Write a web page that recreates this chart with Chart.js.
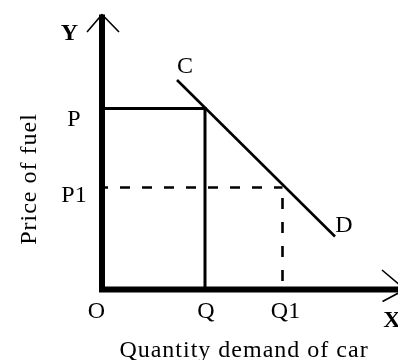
<!DOCTYPE html>
<html>
<head>
<meta charset="utf-8">
<script src="https://cdn.jsdelivr.net/npm/chart.js@4"></script>
<style>
  html, body { margin: 0; padding: 0; background: #ffffff; }
  #wrap { width: 398px; height: 360px; position: relative; }
</style>
</head>
<body>
<div id="wrap"><canvas id="chart"></canvas></div>
<script>
// ── Values (origin O = 0,0) ──────────────────────────────────────────────────

const tickLabels = ['O', 'Q', 'Q1'];
const priceLabels = ['P', 'P1'];

const priceP = 181;
const priceP1 = 102;
const qtyQ = 103;
const qtyQ1 = 180.5;

// demand curve C -> D
const demandQty = [75, 233];
const demandPrice = [209.5, 53];

// axis ends and arrow heads
const yAxisTop = 275;
const xAxisEnd = 300;
const yArrowQty = [-15, 0, 17];
const yArrowPrice = [257.5, 275, 257.5];
const xArrowQty = [280, 303, 280.5];
const xArrowPrice = [19.5, 0, -12];

const toPoints = (xs, ys) => xs.map((x, i) => ({ x: x, y: ys[i] }));

function lineSet(points, width, extra) {
  return Object.assign({
    data: points,
    showLine: true,
    borderColor: '#000000',
    backgroundColor: '#000000',
    borderWidth: width,
    pointRadius: 0,
    pointHoverRadius: 0,
    tension: 0,
    fill: false,
    borderCapStyle: 'butt',
    borderJoinStyle: 'miter',
  }, extra || {});
}

// ── Text labels placed through the scales ────────────────────────────────────

const labelPlugin = {
  id: 'diagramLabels',
  afterDatasetsDraw(chart) {
    const { ctx, scales } = chart;
    const xs = scales.x, ys = scales.y;
    const x0 = xs.getPixelForValue(0);
    const y0 = ys.getPixelForValue(0);
    const serif = '"Liberation Serif", "Times New Roman", serif';

    ctx.save();
    ctx.fillStyle = '#000000';
    ctx.textAlign = 'center';
    ctx.textBaseline = 'alphabetic';
    ctx.font = '24px ' + serif;

    // quantity ticks
    const tickVals = [0, qtyQ, qtyQ1];
    const tickShift = [-5.5, 1, 3];
    tickLabels.forEach((t, i) => {
      ctx.fillText(t, xs.getPixelForValue(tickVals[i]) + tickShift[i], y0 + 28.5);
    });

    // price ticks
    const priceVals = [priceP, priceP1];
    const priceShift = [17.5, 14.5];
    priceLabels.forEach((t, i) => {
      ctx.fillText(t, x0 - 28, ys.getPixelForValue(priceVals[i]) + priceShift[i]);
    });

    // curve ends
    ctx.fillText('C', xs.getPixelForValue(demandQty[0]) + 8, ys.getPixelForValue(demandPrice[0]) - 7);
    ctx.fillText('D', xs.getPixelForValue(demandQty[1]) + 9, ys.getPixelForValue(demandPrice[1]) - 4.5);

    // axis letters
    ctx.font = 'bold 24px ' + serif;
    ctx.fillText('Y', x0 - 32.5, ys.getPixelForValue(yAxisTop) + 25.5);
    ctx.fillText('X', xs.getPixelForValue(xAxisEnd) - 10, y0 + 37.5);

    // axis titles
    ctx.font = '24px ' + serif;
    ctx.letterSpacing = '1px';
    ctx.fillText('Quantity demand of car', 244, y0 + 67.5);

    ctx.translate(36, 179);
    ctx.rotate(-Math.PI / 2);
    ctx.fillText('Price of fuel', 0, 0);
    ctx.restore();
  }
};

// ── Chart ────────────────────────────────────────────────────────────────────

new Chart(document.getElementById('chart'), {
  type: 'scatter',
  data: {
    datasets: [
      // axes
      lineSet([{ x: 0, y: yAxisTop }, { x: 0, y: 0 }, { x: xAxisEnd, y: 0 }], 6),
      lineSet(toPoints(yArrowQty, yArrowPrice), 1.6, { borderJoinStyle: 'round' }),
      lineSet(toPoints(xArrowQty, xArrowPrice), 1.6, { borderJoinStyle: 'round' }),
      // P / Q box
      lineSet([{ x: 0, y: priceP }, { x: qtyQ, y: priceP }, { x: qtyQ, y: 0 }], 3),
      // P1 / Q1 dashed guides
      lineSet([{ x: 0, y: priceP1 }, { x: qtyQ1, y: priceP1 }], 2.6,
        { borderDash: [10, 12], borderDashOffset: 4 }),
      lineSet([{ x: qtyQ1, y: priceP1 }, { x: qtyQ1, y: 0 }], 2.6,
        { borderDash: [11, 13], borderDashOffset: 13.5 }),
      // demand curve
      lineSet(toPoints(demandQty, demandPrice), 2.6),
    ]
  },
  options: {
    responsive: true,
    maintainAspectRatio: false,
    animation: false,
    layout: { padding: 0 },
    plugins: {
      legend: { display: false },
      tooltip: { enabled: false }
    },
    scales: {
      x: { type: 'linear', display: false, min: -102, max: 296 },
      y: { type: 'linear', display: false, min: -70.5, max: 289.5 }
    }
  },
  plugins: [labelPlugin]
});
</script>
</body>
</html>
